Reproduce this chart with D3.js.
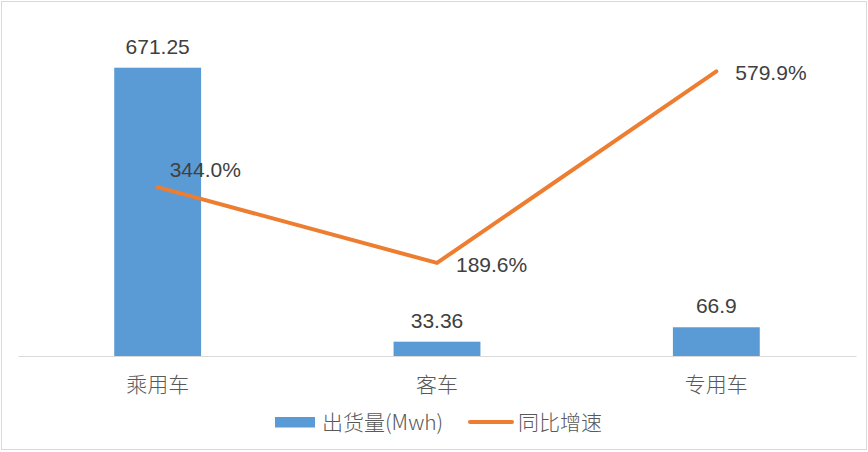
<!DOCTYPE html>
<html><head><meta charset="utf-8">
<script src="https://cdn.jsdelivr.net/npm/d3@7"></script>
<style>html,body{margin:0;padding:0;background:#fff;}svg{display:block;}</style>
</head><body>
<svg id="c" width="868" height="452"></svg>
<script>
const categories = ["乘用车", "客车", "专用车"];
const shipments = [671.25, 33.36, 66.9];
const growth = [344.0, 189.6, 579.9];
const seriesNames = ["出货量(Mwh)", "同比增速"];
const primaryMax = 800;
const secondaryMax = 700;

const W = 868, H = 452;
const plot = {left: 18, right: 856, top: 12.4, bottom: 356};
const svg = d3.select("#c");
const latin = "'Liberation Sans', Arial, sans-serif";
const cjk = "'Noto Sans CJK SC', 'Liberation Sans', sans-serif";

svg.append("rect").attr("x", 1.5).attr("y", 1.5).attr("width", W - 3).attr("height", H - 4)
  .attr("fill", "#fff").attr("stroke", "#d9d9d9").attr("stroke-width", 1);

const x = d3.scaleBand().domain(categories).range([plot.left, plot.right]).padding(0);
const barW = x.bandwidth() * 0.311;
const y = d3.scaleLinear().domain([0, primaryMax]).range([plot.bottom, plot.top]);
const y2 = d3.scaleLinear().domain([0, secondaryMax]).range([plot.bottom, plot.top]);
const cx = d => x(d) + x.bandwidth() / 2;

// bars
svg.selectAll("rect.bar").data(shipments).enter().append("rect").attr("class", "bar")
  .attr("x", (d, i) => cx(categories[i]) - barW / 2)
  .attr("y", d => y(d))
  .attr("width", barW)
  .attr("height", d => y(0) - y(d))
  .attr("fill", "#5B9BD5");

// baseline axis
const xAxis = d3.axisBottom(x).tickSize(0).tickPadding(0).tickFormat("");
const ax = svg.append("g").attr("transform", `translate(0,${plot.bottom})`).call(xAxis);
ax.select(".domain").attr("stroke", "#d9d9d9").attr("stroke-width", 1);

// category labels
svg.selectAll("text.cat").data(categories).enter().append("text").attr("class", "cat")
  .attr("x", d => cx(d)).attr("y", plot.bottom + 36)
  .attr("text-anchor", "middle").attr("font-family", cjk).attr("font-size", 21)
  .attr("font-weight", 300).attr("fill", "#595959").text(d => d);

// bar labels
svg.selectAll("text.bl").data(shipments).enter().append("text").attr("class", "bl")
  .attr("x", (d, i) => cx(categories[i])).attr("y", d => y(d) - 14)
  .attr("text-anchor", "middle").attr("font-family", latin).attr("font-size", 21)
  .attr("fill", "#404040").text(d => d);

// line
const line = d3.line().x((d, i) => cx(categories[i])).y(d => y2(d));
svg.append("path").datum(growth).attr("d", line).attr("fill", "none")
  .attr("stroke", "#ED7D31").attr("stroke-width", 4).attr("stroke-linecap", "round")
  .attr("stroke-linejoin", "round");

// line labels
const lblOff = [[12, -10], [19, 9], [19, 8.5]];
svg.selectAll("text.ll").data(growth).enter().append("text").attr("class", "ll")
  .attr("x", (d, i) => cx(categories[i]) + lblOff[i][0])
  .attr("y", (d, i) => y2(d) + lblOff[i][1])
  .attr("font-family", latin).attr("font-size", 21).attr("fill", "#404040")
  .text(d => d.toFixed(1) + "%");

// legend
const lg = svg.append("g");
lg.append("rect").attr("x", 275).attr("y", 417).attr("width", 40).attr("height", 10.5).attr("fill", "#5B9BD5");
lg.append("text").attr("x", 322).attr("y", 429.5).attr("font-family", cjk).attr("font-size", 21)
  .attr("font-weight", 300).attr("fill", "#595959").text(seriesNames[0]);
lg.append("line").attr("x1", 470).attr("x2", 512).attr("y1", 422).attr("y2", 422)
  .attr("stroke", "#ED7D31").attr("stroke-width", 4).attr("stroke-linecap", "round");
lg.append("text").attr("x", 518).attr("y", 429.5).attr("font-family", cjk).attr("font-size", 21)
  .attr("font-weight", 300).attr("fill", "#595959").text(seriesNames[1]);
</script>
</body></html>
